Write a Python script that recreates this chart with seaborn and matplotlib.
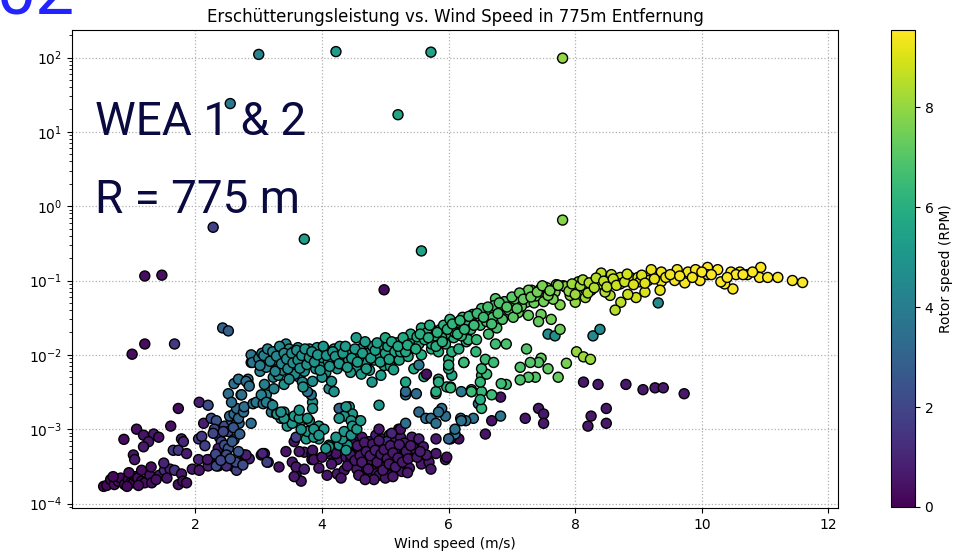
import numpy as np
import pandas as pd
import matplotlib
matplotlib.use("Agg")
import matplotlib.pyplot as plt
import matplotlib.colors as mcolors
import matplotlib.cm as cm
import seaborn as sns

# ---------------- data ----------------
# isolated outliers
out_wind = [3.0, 4.22, 5.72, 7.8, 2.55, 5.2, 2.28, 3.72, 5.57, 7.8, 1.2, 1.47, 4.98, 1.0, 1.2, 1.67, 2.43, 2.52]
out_power = [110, 120, 118, 98, 24, 17, 0.52, 0.36, 0.25, 0.65, 0.115, 0.118, 0.075, 0.0102, 0.014, 0.014, 0.023, 0.021]
out_rpm = [4.3, 5.2, 5.5, 8.0, 3.8, 5.6, 1.8, 5.3, 5.5, 7.8, 0.3, 0.4, 0.3, 0.3, 0.3, 1.6, 3.0, 2.9]

# low wind, idling rotor
low_wind = [0.55, 0.6, 0.66, 0.72, 0.78, 0.82, 0.88, 0.94, 0.98, 1.02, 1.05, 1.09, 1.15, 1.15, 1.2, 1.28, 1.31,
            1.43, 1.51, 1.6, 1.67, 1.73, 1.78, 1.8, 1.86, 1.95, 2.06, 0.87, 1.07, 1.18, 1.34, 1.42, 1.26, 1.18,
            1.02, 1.04, 1.61, 1.73, 1.78, 1.81, 1.65, 1.73, 1.86, 1.5, 2.06, 2.13, 2.05, 2.1, 2.05, 2.22, 2.2,
            2.36, 2.19, 1.3, 0.95, 0.7, 0.92, 1.1, 1.38, 1.55]
low_power = [1.7e-4, 1.75e-4, 2.1e-4, 1.8e-4, 2.0e-4, 2.2e-4, 1.8e-4, 2.1e-4, 1.9e-4, 1.9e-4, 2.3e-4, 2.2e-4,
             2.0e-4, 2.8e-4, 1.9e-4, 2.4e-4, 1.9e-4, 2.4e-4, 2.8e-4, 2.9e-4, 2.8e-4, 1.8e-4, 2.5e-4, 2.0e-4,
             1.9e-4, 2.9e-4, 2.8e-4, 7.3e-4, 1.0e-3, 8.3e-4, 8.6e-4, 7.8e-4, 6.8e-4, 5.8e-4, 4.5e-4, 3.9e-4,
             1.1e-3, 1.9e-3, 7.4e-4, 6.8e-4, 5.2e-4, 5.2e-4, 4.7e-4, 3.5e-4, 2.3e-3, 1.2e-3, 7.4e-4, 8.0e-4,
             3.9e-4, 3.9e-4, 3.2e-4, 3.2e-4, 3.9e-4, 3.1e-4, 2.6e-4, 2.3e-4, 1.7e-4, 1.75e-4, 2.1e-4, 2.2e-4]
low_rpm = [0.2, 0.2, 0.2, 0.3, 0.3, 0.2, 0.3, 0.2, 0.4, 0.3, 0.3, 0.4, 0.2, 0.3, 0.3, 0.5, 0.3, 0.6, 1.2, 0.8,
           1.4, 0.4, 0.5, 0.3, 0.4, 0.6, 0.6, 0.3, 0.4, 0.5, 0.6, 0.4, 0.6, 0.7, 0.5, 0.6, 0.4, 0.3, 0.8, 1.0,
           1.6, 1.5, 0.7, 0.9, 0.8, 0.8, 1.5, 1.6, 1.0, 0.6, 0.8, 1.0, 0.6, 0.4, 0.3, 0.2, 0.2, 0.3, 0.4, 0.5]

# rising blue arm (2-3.4 m/s)
blue_wind = [2.2, 2.25, 2.33, 2.3, 2.38, 2.41, 2.36, 2.46, 2.52, 2.49, 2.61, 2.61, 2.46, 2.52, 2.61, 2.44, 2.49,
             2.65, 2.77, 2.85, 3.04, 3.09, 3.15, 3.32, 2.33, 2.64, 2.8, 3.06, 3.13, 2.57, 2.65, 2.54, 2.61, 2.69,
             2.88, 2.68, 2.65, 2.76, 2.77, 2.91, 2.96, 2.52, 2.57, 2.61, 2.72, 2.68, 2.83, 2.84, 2.91, 2.88, 3.02,
             3.09, 3.12, 3.07, 3.18, 3.24, 3.2, 3.09, 3.2, 3.23, 3.31, 3.4, 3.04, 3.12, 3.22, 2.8, 2.85, 2.73, 2.6,
             2.15, 2.28, 2.32, 2.4, 2.55, 2.58, 2.68, 2.7, 2.75]
blue_power = [2.1e-3, 1.4e-3, 1.3e-3, 1.0e-3, 7.8e-4, 6.8e-4, 5.5e-4, 6.1e-4, 5.5e-4, 4.5e-4, 3.6e-4, 3.1e-4,
              1.1e-3, 9.3e-4, 7.2e-4, 9.3e-4, 3.2e-4, 2.8e-4, 4.5e-4, 4.0e-4, 4.5e-4, 4.7e-4, 3.6e-4, 3.1e-4,
              3.2e-4, 3.6e-4, 4.5e-4, 4.7e-4, 3.6e-4, 1.3e-3, 1.2e-3, 1.5e-3, 1.6e-3, 1.2e-3, 1.2e-3, 1.4e-3,
              1.9e-3, 1.7e-3, 2.0e-3, 2.2e-3, 2.3e-3, 3.0e-3, 2.3e-3, 4.1e-3, 2.9e-3, 4.7e-3, 4.7e-3, 4.0e-3,
              9.5e-3, 7.9e-3, 6.0e-3, 4.0e-3, 2.9e-3, 2.2e-3, 2.2e-3, 3.5e-3, 1.7e-3, 8.8e-3, 7.9e-3, 5.0e-3,
              5.3e-3, 4.0e-3, 2.9e-3, 2.3e-3, 2.1e-3, 4.4e-3, 3.8e-3, 2.9e-3, 1.05e-3,
              6.0e-4, 8.8e-4, 4.6e-4, 3.8e-4, 4.0e-4, 6.8e-4, 5.0e-4, 8.6e-4, 3.3e-4]
blue_rpm = [2.2, 2.3, 2.4, 2.0, 1.9, 2.0, 0.7, 2.2, 2.4, 2.2, 2.3, 2.6, 2.2, 2.3, 2.4, 2.0, 1.2, 1.8, 0.8, 0.8,
            0.8, 0.8, 2.2, 0.5, 2.2, 2.2, 0.8, 1.0, 1.8, 3.0, 3.2, 3.1, 3.3, 3.3, 3.4, 3.2, 3.3, 3.4, 3.4, 3.6,
            3.8, 3.5, 3.4, 3.6, 3.7, 3.6, 3.7, 3.7, 3.8, 3.8, 4.1, 4.1, 4.3, 3.8, 3.9, 4.2, 4.0, 4.0, 4.3, 4.5,
            4.6, 4.9, 4.2, 4.0, 4.3, 3.5, 3.5, 3.5, 2.5, 1.8, 2.0, 2.1, 2.0, 2.3, 2.6, 2.5, 2.8, 2.2]

# descending teal arm (3.3-4.9 m/s)
arm_wind = [3.28, 3.35, 3.4, 3.29, 3.45, 3.59, 3.64, 3.8, 3.85, 3.83, 3.77, 3.85, 3.91, 3.95, 3.75, 3.53, 3.4,
            3.35, 3.56, 3.64, 3.77, 3.67, 3.87, 4.11, 4.27, 4.4, 4.32, 4.35, 4.5, 4.5, 4.43, 4.43, 4.3, 4.27,
            4.48, 4.35, 4.46, 4.22, 4.38, 4.11, 4.46, 4.9, 3.95, 4.03, 4.06, 3.64, 3.77, 3.87, 3.95, 4.27,
            4.38, 4.48, 4.55, 4.61, 3.5, 3.6]
arm_power = [1.6e-3, 1.4e-3, 1.7e-3, 1.6e-3, 1.1e-3, 1.5e-3, 1.2e-3, 1.3e-3, 2.3e-3, 2.9e-3, 3.2e-3, 1.9e-3,
             9.0e-4, 7.4e-4, 7.4e-4, 1.2e-3, 1.4e-3, 1.7e-3, 1.5e-3, 1.4e-3, 9.3e-4, 9.9e-4, 7.8e-4, 6.1e-4,
             6.1e-4, 6.1e-4, 7.4e-4, 9.3e-4, 1.1e-3, 1.4e-3, 1.6e-3, 2.0e-3, 1.9e-3, 1.9e-3, 1.6e-3, 1.5e-3,
             1.3e-3, 7.8e-4, 5.2e-4, 5.8e-4, 8.3e-4, 2.1e-3, 1.1e-3, 1.0e-3, 5.5e-4, 1.8e-3, 1.4e-3, 1.0e-3,
             8.3e-4, 1.4e-3, 2.0e-3, 1.1e-3, 1.0e-3, 1.3e-3, 5.0e-3, 5.8e-3]
arm_rpm = [4.8, 5.0, 4.7, 5.0, 5.1, 5.2, 5.1, 5.2, 4.9, 3.6, 3.7, 5.0, 5.1, 5.0, 5.2, 5.1, 5.0, 4.8, 5.2, 5.1,
           5.2, 5.0, 5.1, 5.0, 5.0, 5.0, 5.1, 5.1, 5.0, 5.0, 5.1, 5.2, 5.0, 3.0, 5.0, 5.0, 5.0, 5.0, 5.0, 5.0,
           4.9, 5.0, 5.1, 5.0, 5.0, 5.0, 5.1, 5.1, 5.0, 5.0, 5.1, 5.1, 5.2, 5.2, 4.6, 4.7]

# upper teal band (2.9-5.5 m/s)
band_wind = [2.88, 2.9, 3.09, 3.21, 3.29, 3.43, 3.43, 3.45, 3.59, 3.51, 3.64, 3.69, 3.77, 3.83, 3.95, 3.98, 4.06,
             4.19, 4.19, 4.24, 4.11, 4.19, 4.35, 4.5, 4.54, 4.54, 4.66, 4.69, 4.79, 4.85, 4.93, 3.0, 3.05, 3.12,
             3.15, 3.25, 3.3, 3.35, 3.38, 3.48, 3.5, 3.55, 3.58, 3.62, 3.66, 3.7, 3.72, 3.75, 3.8, 3.86, 3.9,
             3.92, 4.0, 4.04, 4.1, 4.14, 4.25, 4.28, 4.3, 4.4, 4.42, 4.45, 4.58, 4.6, 4.62, 4.72, 4.75, 4.8,
             4.82, 4.9, 4.95, 4.98, 3.57, 3.48, 3.7, 4.0, 4.15, 3.85]
band_power = [1.0e-2, 7.9e-3, 7.9e-3, 9.5e-3, 6.9e-3, 1.0e-2, 1.4e-2, 7.9e-3, 9.5e-3, 5.8e-3, 5.0e-3, 4.3e-3,
              1.0e-2, 7.9e-3, 1.1e-2, 7.5e-3, 5.8e-3, 1.2e-2, 8.7e-3, 6.5e-3, 3.5e-3, 3.2e-3, 7.3e-3, 1.0e-2,
              6.5e-3, 1.7e-2, 1.3e-2, 7.9e-3, 4.3e-3, 1.1e-2, 5.3e-3, 9.0e-3, 1.05e-2, 6.8e-3, 1.1e-2, 8.5e-3,
              1.15e-2, 9.0e-3, 6.2e-3, 1.2e-2, 8.8e-3, 1.1e-2, 7.0e-3, 1.25e-2, 8.2e-3, 1.1e-2, 6.0e-3, 8.8e-3,
              1.2e-2, 9.5e-3, 6.5e-3, 1.25e-2, 9.2e-3, 1.2e-2, 8.0e-3, 1.05e-2, 1.0e-2, 1.3e-2, 8.2e-3, 1.15e-2,
              8.5e-3, 5.8e-3, 9.0e-3, 1.2e-2, 5.5e-3, 1.05e-2, 6.2e-3, 1.3e-2, 8.5e-3, 1.0e-2, 1.3e-2, 7.2e-3,
              5.5e-3, 4.7e-3, 3.7e-3, 5.0e-3, 4.4e-3, 4.4e-3]
band_rpm = [3.7, 3.7, 3.9, 4.3, 4.2, 4.6, 4.5, 4.6, 4.8, 4.5, 4.4, 4.5, 4.8, 4.7, 4.9, 4.9, 4.7, 5.0, 5.0, 4.9,
            4.5, 4.8, 5.1, 5.2, 5.2, 5.2, 5.3, 5.3, 5.0, 5.4, 5.3, 4.0, 4.1, 4.2, 4.3, 4.4, 4.5, 4.5, 4.5, 4.6,
            4.6, 4.7, 4.7, 4.8, 4.8, 4.8, 4.6, 4.9, 4.9, 4.9, 4.8, 5.0, 5.0, 5.0, 5.0, 5.1, 5.1, 5.1, 5.1, 5.2,
            5.2, 5.1, 5.2, 5.3, 5.2, 5.3, 5.3, 5.4, 5.4, 5.4, 5.5, 5.4, 4.6, 4.6, 4.8, 4.8, 4.8, 4.7]

band2_wind = [3.02, 3.08, 3.14, 3.18, 3.22, 3.26, 3.28, 3.33, 3.36, 3.4, 3.44, 3.46, 3.52, 3.54, 3.6, 3.62, 3.65,
              3.68, 3.73, 3.76, 3.8, 3.84, 3.88, 3.93, 3.97, 4.02, 4.07, 4.12, 4.17, 4.21, 4.27, 4.33, 4.37, 4.4,
              4.47, 4.52, 4.56, 4.64, 4.68, 4.7, 4.77, 4.84, 4.87, 4.92, 5.0, 5.04, 5.08, 5.15, 5.18, 5.22, 5.26,
              5.3, 5.36, 5.42, 5.46]
band2_power = [7.2e-3, 9.8e-3, 1.2e-2, 8.2e-3, 1.1e-2, 6.0e-3, 9.6e-3, 1.3e-2, 7.6e-3, 1.05e-2, 8.8e-3, 6.5e-3,
               1.05e-2, 7.8e-3, 1.15e-2, 8.5e-3, 6.6e-3, 9.8e-3, 1.2e-2, 7.4e-3, 9.2e-3, 1.1e-2, 8.0e-3, 1.0e-2,
               6.2e-3, 1.3e-2, 9.8e-3, 7.0e-3, 1.1e-2, 9.5e-3, 7.6e-3, 1.05e-2, 1.3e-2, 6.8e-3, 9.0e-3, 1.2e-2,
               8.0e-3, 1.05e-2, 1.5e-2, 6.5e-3, 9.0e-3, 1.15e-2, 1.45e-2, 8.0e-3, 1.05e-2, 1.3e-2, 7.0e-3,
               1.1e-2, 1.45e-2, 8.5e-3, 1.25e-2, 1.55e-2, 9.5e-3, 1.25e-2, 1.55e-2]
band2_rpm = [4.0, 4.1, 4.2, 4.3, 4.3, 4.3, 4.4, 4.4, 4.5, 4.5, 4.6, 4.5, 4.6, 4.7, 4.7, 4.7, 4.7, 4.8, 4.8, 4.8,
             4.9, 4.9, 4.9, 5.0, 4.9, 5.0, 5.0, 5.0, 5.1, 5.1, 5.1, 5.1, 5.2, 5.2, 5.2, 5.2, 5.3, 5.3, 5.3, 5.3,
             5.3, 5.4, 5.4, 5.4, 5.5, 5.5, 5.5, 5.6, 5.6, 5.6, 5.7, 5.7, 5.8, 5.8, 5.9]

# green band (5-8 m/s)
green_wind = [5.0, 5.1, 5.06, 5.13, 5.24, 5.32, 5.42, 5.4, 5.45, 5.53, 5.61, 5.65, 5.73, 5.8, 5.84, 6.0, 6.03,
              6.24, 6.36, 6.2, 5.57, 5.73, 5.87, 6.05, 6.28, 6.42, 6.08, 6.28, 5.73, 5.53, 5.32, 5.57, 5.84,
              6.05, 6.0, 5.84, 6.74, 6.66, 6.82, 6.98, 7.1, 7.23, 7.31, 7.45, 7.57, 7.68, 7.81, 7.76, 7.62,
              7.46, 7.42, 7.26, 6.91, 6.58, 6.47, 6.36, 6.27, 6.16, 5.95, 5.89, 6.31, 6.44, 6.63, 6.76, 6.91,
              6.74, 6.43, 6.16, 7.23, 7.76, 5.2, 5.28, 5.35, 5.48, 5.5, 5.62, 5.66, 5.78, 5.8, 5.92, 5.95, 6.1,
              6.12, 6.2, 6.22, 6.35, 6.38, 6.5, 6.52, 6.6, 6.7, 6.72, 6.85, 6.88, 6.95, 7.02, 7.05, 7.15, 7.2,
              7.35, 7.38, 7.5, 7.55, 7.65, 7.7, 7.84, 7.73, 7.57, 7.26, 6.02]
green_power = [1.7e-2, 1.5e-2, 8.7e-3, 6.3e-3, 1.1e-2, 4.3e-3, 1.6e-2, 1.9e-2, 6.5e-3, 7.3e-3, 5.1e-3, 5.5e-3,
               1.2e-2, 3.2e-3, 4.7e-3, 8.7e-3, 3.6e-3, 7.9e-3, 3.2e-3, 3.2e-3, 2.3e-2, 2.2e-2, 2.2e-2, 2.3e-2,
               2.9e-2, 3.0e-2, 1.7e-2, 1.5e-2, 1.4e-2, 1.4e-2, 1.1e-2, 1.0e-2, 1.1e-2, 1.1e-2, 7.3e-3, 4.3e-3,
               5.7e-2, 3.7e-2, 4.0e-2, 4.7e-2, 3.7e-2, 5.1e-2, 7.4e-2, 7.7e-2, 6.1e-2, 7.0e-2, 8.5e-2, 4.7e-2,
               3.0e-2, 3.5e-2, 2.8e-2, 3.4e-2, 3.7e-2, 3.7e-2, 3.0e-2, 2.8e-2, 2.5e-2, 2.3e-2, 1.9e-2, 1.7e-2,
               1.6e-2, 1.6e-2, 1.9e-2, 2.3e-2, 1.4e-2, 1.4e-2, 1.1e-2, 1.2e-2, 1.2e-2, 2.2e-2, 1.3e-2, 1.7e-2,
               1.35e-2, 1.2e-2, 1.75e-2, 1.6e-2, 2.0e-2, 1.8e-2, 1.3e-2, 2.5e-2, 1.4e-2, 2.0e-2, 2.7e-2, 1.8e-2,
               3.2e-2, 2.2e-2, 3.5e-2, 2.5e-2, 4.2e-2, 2.8e-2, 3.2e-2, 4.6e-2, 3.0e-2, 5.2e-2, 4.0e-2, 3.2e-2,
               5.6e-2, 4.5e-2, 6.5e-2, 5.0e-2, 6.2e-2, 5.2e-2, 8.0e-2, 5.6e-2, 8.8e-2, 8.3e-2, 8.6e-2, 6.3e-2,
               7.4e-2, 3.0e-2]
green_rpm = [5.6, 5.6, 5.5, 5.5, 5.7, 5.7, 5.9, 5.8, 5.8, 3.8, 5.8, 0.4, 6.0, 6.0, 5.5, 6.2, 6.3, 6.5, 6.5, 3.9,
             5.9, 6.0, 6.1, 6.2, 6.4, 6.5, 6.1, 6.3, 6.0, 5.9, 5.7, 5.9, 6.0, 6.1, 6.0, 6.0, 7.0, 6.8, 7.0, 7.2,
             7.3, 7.3, 7.5, 7.6, 7.6, 7.7, 7.8, 7.7, 7.5, 7.4, 7.3, 7.3, 7.0, 6.8, 6.6, 6.5, 6.3, 6.2, 6.0, 6.0,
             6.3, 6.4, 6.7, 6.8, 6.8, 6.6, 6.3, 6.0, 6.9, 7.4, 5.7, 5.8, 5.8, 5.9, 5.9, 6.0, 6.0, 6.0, 6.0, 6.1,
             6.1, 6.2, 6.3, 6.3, 6.4, 6.4, 6.5, 6.6, 6.7, 6.7, 6.8, 6.9, 6.9, 7.0, 7.1, 7.1, 7.2, 7.2, 7.4, 7.4,
             7.5, 7.5, 7.7, 7.6, 7.8, 7.9, 7.8, 7.6, 7.4, 6.2]

green2_wind = [5.55, 5.68, 5.7, 5.82, 5.9, 5.98, 6.06, 6.14, 6.18, 6.25, 6.32, 6.4, 6.45, 6.55, 6.62, 6.68, 6.78,
               6.8, 6.92, 7.0, 7.08, 7.12, 7.18, 7.3, 7.4, 7.48, 7.6]
green2_power = [1.9e-2, 1.7e-2, 2.5e-2, 2.0e-2, 1.5e-2, 2.2e-2, 2.6e-2, 1.9e-2, 2.9e-2, 2.2e-2, 3.3e-2, 2.5e-2,
                3.6e-2, 3.2e-2, 4.4e-2, 2.6e-2, 3.6e-2, 5.0e-2, 4.4e-2, 6.0e-2, 4.2e-2, 6.8e-2, 5.6e-2, 6.0e-2,
                7.0e-2, 8.5e-2, 7.3e-2]
green2_rpm = [5.9, 6.0, 6.0, 6.1, 6.1, 6.1, 6.2, 6.2, 6.3, 6.3, 6.4, 6.5, 6.5, 6.6, 6.7, 6.7, 6.8, 6.9, 7.0, 7.1,
              7.1, 7.2, 7.3, 7.4, 7.5, 7.6, 7.6]

# lower green sub-band (6-8.3 m/s)
sub_wind = [7.46, 7.42, 7.29, 7.37, 7.26, 7.13, 7.13, 6.91, 6.83, 6.68, 6.52, 6.52, 6.6, 6.52, 6.58, 6.71, 6.5,
            6.52, 6.5, 6.36, 6.03, 6.05, 6.0, 6.24, 8.02, 8.13, 8.24, 7.86, 7.73, 7.57, 5.8, 5.97, 6.36]
sub_power = [9.0e-3, 7.9e-3, 7.9e-3, 5.0e-3, 5.0e-3, 6.8e-3, 4.6e-3, 4.0e-3, 4.1e-3, 2.9e-3, 3.2e-3, 5.3e-3,
             5.5e-3, 6.5e-3, 8.7e-3, 7.9e-3, 4.3e-3, 1.9e-3, 2.5e-3, 3.4e-3, 3.7e-3, 5.3e-3, 6.5e-3, 7.9e-3,
             1.1e-2, 9.4e-3, 8.7e-3, 7.7e-3, 5.0e-3, 6.5e-3, 3.0e-3, 3.7e-3, 3.2e-3]
sub_rpm = [7.2, 7.0, 7.0, 7.0, 7.0, 6.9, 6.8, 6.6, 6.6, 6.5, 6.4, 6.4, 6.5, 6.4, 6.5, 6.5, 6.3, 6.2, 6.0, 5.9,
           5.6, 5.6, 5.6, 5.8, 8.0, 8.1, 8.1, 7.6, 7.3, 7.2, 5.8, 5.9, 5.5]

# teal / blue points below the main band
mid_wind = [7.57, 7.68, 8.28, 8.39, 9.31, 6.47, 6.39, 6.27, 6.19, 5.95, 5.89, 6.82, 6.1, 5.32, 5.49, 5.53, 5.64,
            5.72, 5.8, 5.84, 5.32, 6.1, 6.2, 6.0, 5.32]
mid_power = [1.9e-2, 1.8e-2, 1.8e-2, 2.2e-2, 5.0e-2, 2.2e-3, 1.4e-3, 1.3e-3, 1.4e-3, 1.5e-3, 1.9e-3, 1.5e-3,
             8.6e-4, 2.9e-3, 3.0e-3, 1.7e-3, 1.4e-3, 1.4e-3, 1.2e-3, 1.7e-3, 1.2e-3, 1.0e-3, 1.3e-3, 7.4e-4,
             3.2e-3]
mid_rpm = [4.6, 4.8, 4.5, 4.6, 4.6, 3.8, 3.6, 3.5, 3.4, 3.4, 3.4, 3.8, 4.0, 3.5, 3.3, 3.3, 3.4, 3.4, 3.5, 3.5,
           3.5, 3.6, 3.6, 3.0, 3.3]

# purple points at higher wind speed
idle_wind = [6.82, 6.68, 6.58, 6.16, 6.03, 5.97, 7.21, 7.42, 7.5, 7.5, 8.13, 8.36, 8.8, 8.25, 8.49, 8.2, 8.49,
             9.07, 9.26, 9.39, 9.72]
idle_power = [2.7e-3, 1.3e-3, 8.6e-4, 7.4e-4, 7.4e-4, 4.2e-4, 1.4e-3, 1.9e-3, 1.6e-3, 1.2e-3, 4.3e-3, 4.0e-3,
              4.0e-3, 1.5e-3, 1.9e-3, 1.1e-3, 1.2e-3, 3.4e-3, 3.6e-3, 3.6e-3, 3.0e-3]
idle_rpm = [0.5, 0.5, 0.5, 0.4, 0.4, 0.4, 0.6, 0.6, 0.6, 0.6, 0.6, 0.6, 0.6, 0.6, 0.6, 0.6, 0.6, 0.6, 0.6, 0.6,
            0.6]

# dense purple cluster (3.4-6 m/s)
blob_wind = [3.43, 3.53, 3.59, 3.67, 3.72, 3.84, 3.84, 4.08, 4.24, 4.35, 4.11, 4.24, 4.38, 4.5, 4.61, 4.74, 4.85,
             4.9, 5.06, 5.17, 5.26, 5.18, 5.32, 5.42, 5.57, 5.69, 5.72, 5.48, 5.42, 5.53, 5.8, 5.8, 5.95, 4.74,
             4.85, 4.95, 5.06, 5.13, 5.24, 4.9, 4.79, 4.69, 4.58, 4.54, 4.43, 4.3, 4.22, 4.69, 4.82, 4.95, 5.0,
             5.1, 5.06, 5.18, 4.63, 4.5, 4.38, 5.24, 5.21, 4.9, 4.08, 3.56, 3.59, 3.64, 3.85, 3.87, 3.59, 3.72,
             3.56, 5.24, 4.45, 4.6, 4.65, 4.72, 4.78, 4.88, 4.92, 4.98, 5.02, 5.1, 5.15, 5.28, 5.3, 5.38, 5.45,
             5.6, 5.65, 4.55, 4.4, 4.15, 4.0, 3.95, 4.82, 5.0, 4.3, 5.1, 5.02]
blob_power = [5.0e-4, 3.6e-4, 2.4e-4, 2.0e-4, 4.9e-4, 4.7e-4, 3.9e-4, 2.4e-4, 2.5e-4, 2.8e-4, 4.7e-4, 3.9e-4,
              4.2e-4, 3.4e-4, 2.7e-4, 2.4e-4, 2.7e-4, 2.4e-4, 2.5e-4, 2.8e-4, 2.7e-4, 3.4e-4, 3.4e-4, 4.5e-4,
              3.4e-4, 3.6e-4, 2.9e-4, 6.8e-4, 7.8e-4, 7.4e-4, 7.4e-4, 4.7e-4, 3.9e-4, 6.8e-4, 8.3e-4, 7.4e-4,
              8.3e-4, 6.8e-4, 5.8e-4, 5.5e-4, 5.0e-4, 4.2e-4, 5.5e-4, 4.2e-4, 5.0e-4, 6.1e-4, 4.7e-4, 3.4e-4,
              3.4e-4, 3.9e-4, 3.1e-4, 4.2e-4, 5.5e-4, 4.7e-4, 7.8e-4, 6.8e-4, 6.1e-4, 7.8e-4, 1.0e-3, 1.0e-3,
              5.0e-4, 6.8e-4, 7.8e-4, 5.0e-4, 5.2e-4, 3.9e-4, 3.1e-4, 2.9e-4, 2.3e-4, 1.0e-3, 3.7e-4, 3.1e-4,
              4.8e-4, 5.8e-4, 3.9e-4, 4.5e-4, 3.3e-4, 6.3e-4, 4.7e-4, 3.6e-4, 5.2e-4, 4.2e-4, 6.5e-4, 3.0e-4,
              5.5e-4, 5.8e-4, 4.5e-4, 2.9e-4, 3.2e-4, 3.4e-4, 4.2e-4, 3.0e-4, 2.1e-4, 2.2e-4, 2.2e-4, 8.8e-4,
              6.8e-4]
blob_rpm = [0.5, 0.6, 0.5, 0.6, 0.6, 0.5, 0.6, 0.5, 0.6, 0.5, 0.5, 0.6, 0.7, 0.6, 0.5, 0.7, 0.6, 0.5, 0.6, 0.7,
            0.6, 0.5, 0.6, 0.8, 0.6, 0.7, 0.6, 0.6, 0.7, 0.8, 0.7, 0.6, 0.9, 0.6, 0.7, 0.8, 0.6, 0.7, 0.6, 0.7,
            0.8, 0.6, 0.7, 0.6, 0.6, 0.6, 0.5, 0.7, 0.8, 0.7, 0.6, 0.7, 0.8, 0.6, 0.6, 0.5, 0.6, 0.7, 0.6, 0.6,
            0.6, 0.5, 1.8, 0.6, 0.6, 0.5, 0.6, 0.8, 0.6, 0.5, 0.6, 0.7, 0.6, 0.7, 0.6, 0.7, 0.6, 0.8, 0.6, 0.7,
            0.6, 0.7, 0.8, 0.6, 0.7, 0.6, 0.7, 0.6, 0.5, 0.6, 0.5, 0.6, 0.6, 0.5, 0.5, 1.0, 1.3]

blob2_wind = [4.4, 4.45, 4.48, 4.52, 4.56, 4.6, 4.63, 4.67, 4.7, 4.73, 4.76, 4.8, 4.84, 4.87, 4.9, 4.93, 4.96,
              4.98, 5.03, 5.06, 5.08, 5.12, 5.16, 5.2, 5.22, 5.27, 5.33, 5.36, 5.4, 5.5, 5.55, 4.58, 4.68, 5.12,
              5.35]
blob2_power = [5.5e-4, 4.5e-4, 6.4e-4, 3.8e-4, 6.0e-4, 4.4e-4, 3.6e-4, 6.6e-4, 5.0e-4, 2.9e-4, 4.4e-4, 6.3e-4,
               5.2e-4, 3.6e-4, 7.0e-4, 4.6e-4, 2.8e-4, 5.3e-4, 4.0e-4, 3.4e-4, 6.0e-4, 4.8e-4, 3.1e-4, 4.1e-4,
               6.2e-4, 3.6e-4, 5.0e-4, 4.0e-4, 6.0e-4, 4.2e-4, 5.0e-4, 2.4e-4, 2.1e-4, 2.3e-4, 2.6e-4]
blob2_rpm = [0.6, 0.7, 0.6, 0.6, 0.7, 0.6, 0.7, 0.6, 0.7, 0.6, 0.7, 0.6, 0.8, 0.6, 0.7, 0.6, 0.7, 0.6, 0.7, 0.6,
             0.7, 0.6, 0.7, 0.6, 0.7, 0.6, 0.7, 0.6, 0.7, 0.6, 0.7, 0.6, 0.6, 0.6, 0.7]

# full-load plateau (7.8-11.6 m/s)
top_wind = [8.41, 8.57, 8.71, 8.87, 8.99, 9.2, 9.36, 9.61, 9.78, 9.9, 10.09, 10.25, 10.46, 10.6, 10.72, 10.93,
            10.91, 11.04, 11.2, 11.43, 11.59, 10.49, 10.36, 10.3, 9.57, 9.73, 9.97, 9.36, 9.34, 9.1, 8.96, 8.83,
            8.72, 8.63, 8.55, 8.47, 8.39, 8.71, 9.02, 9.15, 9.43, 10.09, 10.54, 8.05, 8.16, 8.25, 8.0, 8.16,
            7.84, 7.92, 7.73, 7.9, 7.95, 8.0, 8.08, 8.12, 8.2, 8.22, 8.3, 8.33, 8.45, 8.5, 8.6, 8.65, 8.78,
            8.82, 8.92, 9.05, 9.1, 9.25, 9.5, 9.65, 9.85, 10.0, 10.15, 10.4, 10.65, 10.8]
top_power = [0.126, 0.12, 0.11, 0.11, 0.11, 0.14, 0.13, 0.14, 0.13, 0.14, 0.15, 0.14, 0.13, 0.13, 0.12, 0.15,
             0.11, 0.11, 0.11, 0.1, 0.094, 0.077, 0.09, 0.096, 0.1, 0.093, 0.1, 0.097, 0.074, 0.07, 0.059, 0.065,
             0.051, 0.04, 0.063, 0.07, 0.09, 0.09, 0.096, 0.1, 0.11, 0.12, 0.12, 0.096, 0.077, 0.074, 0.051,
             0.059, 0.083, 0.063, 0.086, 0.072, 0.09, 0.065, 0.085, 0.102, 0.068, 0.093, 0.08, 0.108, 0.098,
             0.082, 0.105, 0.086, 0.096, 0.122, 0.088, 0.118, 0.092, 0.105, 0.12, 0.115, 0.11, 0.13, 0.12, 0.11,
             0.12, 0.13]
top_rpm = [8.6, 8.7, 8.8, 8.9, 9.0, 9.2, 9.3, 9.4, 9.4, 9.5, 9.5, 9.5, 9.5, 9.5, 9.5, 9.5, 9.5, 9.5, 9.5, 9.5,
           9.5, 9.5, 9.5, 9.5, 9.4, 9.4, 9.5, 9.3, 9.2, 9.0, 8.9, 8.8, 8.6, 8.5, 8.5, 8.4, 8.3, 8.7, 9.0, 9.1,
           9.3, 9.5, 9.5, 8.1, 8.2, 8.3, 8.0, 8.2, 7.9, 7.9, 7.8, 8.0, 8.1, 8.1, 8.2, 8.3, 8.3, 8.4, 8.4, 8.5,
           8.6, 8.6, 8.7, 8.8, 8.8, 8.9, 9.0, 9.0, 9.1, 9.2, 9.3, 9.4, 9.4, 9.5, 9.5, 9.5, 9.5, 9.5]

# ---------------- assemble ----------------
groups = [
    (low_wind, low_power, low_rpm), (blue_wind, blue_power, blue_rpm), (blob_wind, blob_power, blob_rpm),
    (blob2_wind, blob2_power, blob2_rpm), (arm_wind, arm_power, arm_rpm), (band_wind, band_power, band_rpm),
    (band2_wind, band2_power, band2_rpm), (idle_wind, idle_power, idle_rpm), (mid_wind, mid_power, mid_rpm),
    (sub_wind, sub_power, sub_rpm), (green_wind, green_power, green_rpm),
    (green2_wind, green2_power, green2_rpm), (top_wind, top_power, top_rpm), (out_wind, out_power, out_rpm),
]
frames = []
for w, p, r in groups:
    n = min(len(w), len(p), len(r))
    frames.append(pd.DataFrame({"wind": w[:n], "power": p[:n], "rpm": r[:n]}))
df = pd.concat(frames, ignore_index=True)

# ---------------- figure ----------------
fig = plt.figure(figsize=(9.61, 5.54), dpi=100)
ax = fig.add_axes([0.0749, 0.083, 0.7971, 0.863])
cax = fig.add_axes([0.927, 0.085, 0.025, 0.861])

norm = mcolors.Normalize(vmin=0, vmax=9.55)
sns.scatterplot(data=df, x="wind", y="power", hue="rpm", palette="viridis", hue_norm=norm,
                edgecolor="black", linewidth=1.0, s=52, legend=False, ax=ax, zorder=3)

ax.set_yscale("log")
ax.set_xlim(0.05, 12.15)
ax.set_ylim(8.7e-5, 235)
ax.set_xticks([2, 4, 6, 8, 10, 12])
ax.grid(True, which="major", linestyle=":", color="#b0b0b0", linewidth=0.9)
ax.set_axisbelow(True)
ax.set_xlabel("Wind speed (m/s)", fontsize=10)
ax.set_ylabel(None)
ax.set_title("Erschütterungsleistung vs. Wind Speed in 775m Entfernung", fontsize=12)

sm = cm.ScalarMappable(norm=norm, cmap="viridis")
sm.set_array([])
cb = fig.colorbar(sm, cax=cax)
cb.set_label("Rotor speed (RPM)", fontsize=10)
cb.set_ticks([0, 2, 4, 6, 8])

ax.text(0.03, 0.78, "WEA 1 & 2", transform=ax.transAxes, fontsize=33, color="#0a0a40",
        family=["Roboto", "DejaVu Sans"], va="baseline", ha="left", zorder=5)
ax.text(0.03, 0.617, "R = 775 m", transform=ax.transAxes, fontsize=33, color="#0a0a40",
        family=["Roboto", "DejaVu Sans"], va="baseline", ha="left", zorder=5)

fig.text(-0.004, 0.973, "02", fontsize=50, color="#2323ff", family=["Roboto", "DejaVu Sans"],
         va="baseline", ha="left")

fig.savefig("out.png", dpi=100)
